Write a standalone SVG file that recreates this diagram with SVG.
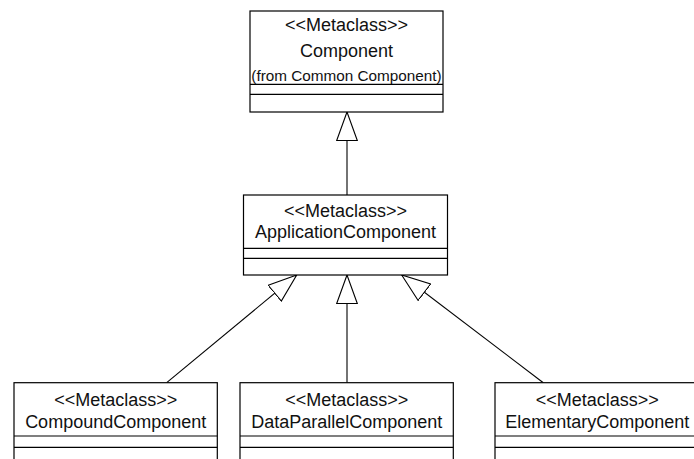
<svg xmlns="http://www.w3.org/2000/svg" width="694" height="459" viewBox="0 0 694 459">
<style>
.box{fill:#fff;stroke:#000;stroke-width:1.2}
.div{stroke:#000;stroke-width:1.2}
.t{font-family:"Liberation Sans",Arial,sans-serif;font-size:18px;fill:#111;text-anchor:middle}
.s{font-size:15.3px}
.c{fill:none;stroke:#000;stroke-width:1.1}
</style>
<defs>
<marker id="gen" markerUnits="userSpaceOnUse" viewBox="0 0 30 22" markerWidth="30" markerHeight="22" refX="29" refY="11" orient="auto">
<path d="M29,11 L0.5,0.7 L0.5,21.3 Z" fill="#fff" stroke="#000" stroke-width="1.1"/>
</marker>
</defs>
<rect width="694" height="459" fill="#fff"/>
<g id="connectors">
<line class="c" x1="347" y1="195" x2="347" y2="112" marker-end="url(#gen)"/>
<line class="c" x1="347" y1="382.7" x2="347" y2="275" marker-end="url(#gen)"/>
<line class="c" x1="166.7" y1="382.7" x2="296.7" y2="275" marker-end="url(#gen)"/>
<line class="c" x1="543.3" y1="382.7" x2="401.7" y2="275" marker-end="url(#gen)"/>
</g>
<g id="Component">
<rect class="box" x="250" y="11" width="193" height="101"/>
<line class="div" x1="250" y1="84.3" x2="443" y2="84.3"/>
<line class="div" x1="250" y1="94.3" x2="443" y2="94.3"/>
<text class="t" x="346.5" y="30.7">&lt;&lt;Metaclass&gt;&gt;</text>
<text class="t" x="346.5" y="56.7">Component</text>
<text class="t s" x="346.5" y="80.5">(from Common Component)</text>
</g>
<g id="ApplicationComponent">
<rect class="box" x="243.5" y="195" width="204" height="80"/>
<line class="div" x1="243.5" y1="248.3" x2="447.5" y2="248.3"/>
<line class="div" x1="243.5" y1="258.3" x2="447.5" y2="258.3"/>
<text class="t" x="345.5" y="216.7">&lt;&lt;Metaclass&gt;&gt;</text>
<text class="t" x="345.5" y="238.3">ApplicationComponent</text>
</g>
<g id="CompoundComponent">
<rect class="box" x="14" y="382.7" width="203.3" height="90"/>
<line class="div" x1="14" y1="436" x2="217.3" y2="436"/>
<line class="div" x1="14" y1="447.3" x2="217.3" y2="447.3"/>
<text class="t" x="115.7" y="405.7">&lt;&lt;Metaclass&gt;&gt;</text>
<text class="t" x="115.7" y="428.3">CompoundComponent</text>
</g>
<g id="DataParallelComponent">
<rect class="box" x="240" y="382.7" width="213.3" height="90"/>
<line class="div" x1="240" y1="436" x2="453.3" y2="436"/>
<line class="div" x1="240" y1="447.3" x2="453.3" y2="447.3"/>
<text class="t" x="346.7" y="405.7">&lt;&lt;Metaclass&gt;&gt;</text>
<text class="t" x="346.7" y="428.3">DataParallelComponent</text>
</g>
<g id="ElementaryComponent">
<rect class="box" x="495" y="382.7" width="204" height="90"/>
<line class="div" x1="495" y1="436" x2="699" y2="436"/>
<line class="div" x1="495" y1="447.3" x2="699" y2="447.3"/>
<text class="t" x="597.3" y="405.7">&lt;&lt;Metaclass&gt;&gt;</text>
<text class="t" x="597.3" y="428.3">ElementaryComponent</text>
</g>
</svg>
